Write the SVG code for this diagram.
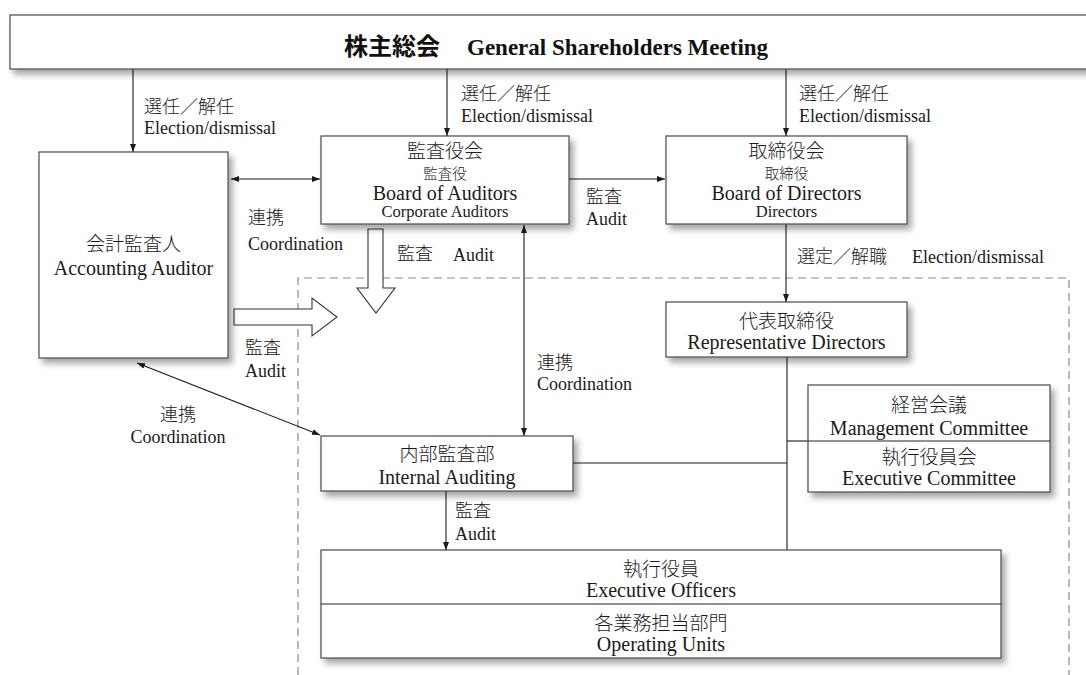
<svg xmlns="http://www.w3.org/2000/svg" width="1086" height="675" viewBox="0 0 1086 675">
<style>
.box{fill:#fff;stroke:#4a4a4a;stroke-width:1.2;filter:url(#sh)}
.div{stroke:#222;stroke-width:1.2;fill:none}
.ln{stroke:#1a1a1a;stroke-width:1.1;fill:none}
.hol{fill:#fff;stroke:#333;stroke-width:1.1}
.dash{stroke:#8a8a8a;stroke-width:1.2;fill:none;stroke-dasharray:8 5}
.j{font-family:"Noto Sans CJK JP","Noto Sans CJK SC",sans-serif;font-weight:300;fill:#1a1a1a}
.e{font-family:"Liberation Serif","Times New Roman",serif;fill:#1a1a1a}
.m{text-anchor:middle}
.b20{font-size:20px}
.c19{font-size:19px}
.s16{font-size:16.5px}
.c15{font-size:14.5px}
.l18{font-size:18px}
.tj{font-family:"Noto Sans CJK JP","Noto Sans CJK SC",sans-serif;font-weight:bold;font-size:24px;fill:#111}
.te{font-family:"Liberation Serif","Times New Roman",serif;font-weight:bold;font-size:23px;fill:#111}
</style>
<defs>
<filter id="sh" x="-10%" y="-20%" width="130%" height="160%">
<feDropShadow dx="4" dy="5" stdDeviation="3" flood-color="#000" flood-opacity="0.35"/>
</filter>
<marker id="ar" markerUnits="userSpaceOnUse" markerWidth="9" markerHeight="7" refX="8" refY="3" orient="auto-start-reverse">
<path d="M0,0 L8,3 L0,6 z" fill="#1a1a1a"/>
</marker>
</defs>
<rect width="1086" height="675" fill="#fff"/>

<g id="dashed-area">
<path class="dash" d="M298,675 V278 H1069 V675"/>
</g>

<g id="connectors">
<line class="ln" x1="133" y1="69" x2="133" y2="152" marker-end="url(#ar)"/>
<line class="ln" x1="447" y1="69" x2="447" y2="136" marker-end="url(#ar)"/>
<line class="ln" x1="786" y1="69" x2="786" y2="136" marker-end="url(#ar)"/>
<line class="ln" x1="231" y1="179" x2="320" y2="179" marker-start="url(#ar)" marker-end="url(#ar)"/>
<line class="ln" x1="569" y1="179" x2="665" y2="179" marker-end="url(#ar)"/>
<line class="ln" x1="786" y1="224" x2="786" y2="302" marker-end="url(#ar)"/>
<line class="ln" x1="524" y1="225" x2="524" y2="436" marker-start="url(#ar)" marker-end="url(#ar)"/>
<line class="ln" x1="137" y1="363" x2="320" y2="435" marker-start="url(#ar)" marker-end="url(#ar)"/>
<line class="ln" x1="787" y1="357" x2="787" y2="550"/>
<line class="ln" x1="573" y1="463" x2="787" y2="463"/>
<line class="ln" x1="787" y1="441" x2="808" y2="441"/>
<line class="ln" x1="446" y1="491" x2="446" y2="550" marker-end="url(#ar)"/>
<path class="hol" d="M368,229 H383 V288 H395 L376,313 L357,288 H368 Z"/>
<path class="hol" d="M234,309 H312 V298 L337,317 L312,336 V325 H234 Z"/>
</g>

<g id="edge-labels">
<text class="j l18" x="144" y="113">選任／解任</text>
<text class="e l18" x="144" y="134">Election/dismissal</text>
<text class="j l18" x="461" y="100">選任／解任</text>
<text class="e l18" x="461" y="122">Election/dismissal</text>
<text class="j l18" x="799" y="100">選任／解任</text>
<text class="e l18" x="799" y="122">Election/dismissal</text>
<text class="j l18" x="248" y="224">連携</text>
<text class="e l18" x="248" y="250">Coordination</text>
<text class="j l18" x="586" y="203">監査</text>
<text class="e l18" x="586" y="225">Audit</text>
<text class="j l18" x="397" y="260">監査</text>
<text class="e l18" x="453" y="261">Audit</text>
<text class="j l18" x="797" y="263">選定／解職</text>
<text class="e l18" x="912" y="263">Election/dismissal</text>
<text class="j l18" x="245" y="354">監査</text>
<text class="e l18" x="245" y="377">Audit</text>
<text class="j l18" x="537" y="369">連携</text>
<text class="e l18" x="537" y="390">Coordination</text>
<text class="j l18 m" x="178" y="421">連携</text>
<text class="e l18 m" x="178" y="443">Coordination</text>
<text class="j l18" x="455" y="517">監査</text>
<text class="e l18" x="455" y="540">Audit</text>
</g>

<g id="shareholders">
<rect class="box" x="10" y="15" width="1090" height="54"/>
<text class="tj" x="344" y="55">株主総会</text>
<text class="te" x="467" y="55">General Shareholders Meeting</text>
</g>

<g id="accounting-auditor">
<rect class="box" x="39" y="152" width="189" height="206"/>
<text class="j c19 m" x="133.5" y="251">会計監査人</text>
<text class="e b20 m" x="133.5" y="275">Accounting Auditor</text>
</g>

<g id="board-of-auditors">
<rect class="box" x="321" y="136" width="248" height="88"/>
<text class="j c19 m" x="445" y="158">監査役会</text>
<text class="j c15 m" x="445" y="179">監査役</text>
<text class="e b20 m" x="445" y="200">Board of Auditors</text>
<text class="e s16 m" x="445" y="217">Corporate Auditors</text>
</g>

<g id="board-of-directors">
<rect class="box" x="666" y="136" width="241" height="88"/>
<text class="j c19 m" x="786.5" y="158">取締役会</text>
<text class="j c15 m" x="786.5" y="179">取締役</text>
<text class="e b20 m" x="786.5" y="200">Board of Directors</text>
<text class="e s16 m" x="786.5" y="217">Directors</text>
</g>

<g id="representative-directors">
<rect class="box" x="666" y="302" width="241" height="55"/>
<text class="j c19 m" x="786.5" y="328">代表取締役</text>
<text class="e b20 m" x="786.5" y="349">Representative Directors</text>
</g>

<g id="committees">
<rect class="box" x="808" y="385" width="242" height="107"/>
<line class="div" x1="808" y1="441" x2="1050" y2="441"/>
<text class="j c19 m" x="929" y="412">経営会議</text>
<text class="e b20 m" x="929" y="435">Management Committee</text>
<text class="j c19 m" x="929" y="464">執行役員会</text>
<text class="e b20 m" x="929" y="485">Executive Committee</text>
</g>

<g id="internal-auditing">
<rect class="box" x="321" y="436" width="252" height="55"/>
<text class="j c19 m" x="447" y="461">内部監査部</text>
<text class="e b20 m" x="447" y="484">Internal Auditing</text>
</g>

<g id="executive-officers">
<rect class="box" x="321" y="550" width="680" height="108"/>
<line class="div" x1="321" y1="604" x2="1001" y2="604"/>
<text class="j c19 m" x="661" y="576">執行役員</text>
<text class="e b20 m" x="661" y="597">Executive Officers</text>
<text class="j c19 m" x="661" y="630">各業務担当部門</text>
<text class="e b20 m" x="661" y="651">Operating Units</text>
</g>
</svg>
